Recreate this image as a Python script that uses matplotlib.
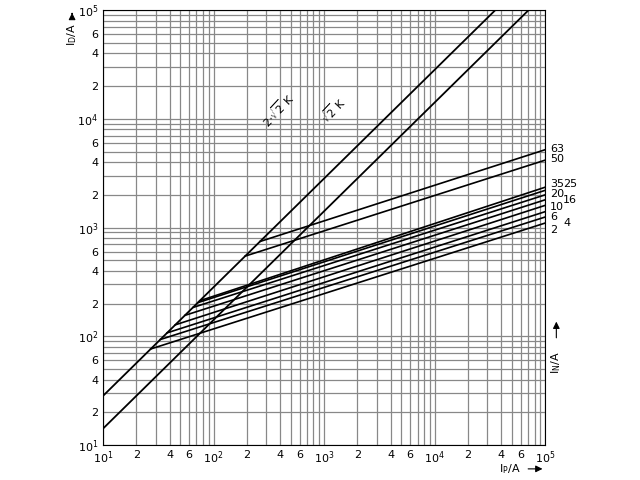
import numpy as np
import matplotlib.pyplot as plt
from matplotlib.ticker import LogLocator, FixedFormatter, FixedLocator

# rated currents and where each fuse curve leaves the 2*sqrt(2) line / ends at 1e5
ratings = ["63", "50", "35", "25", "20", "16", "10", "6", "4", "2"]
start_ip = [263, 193, 75, 72, 65, 55, 45, 38, 33, 27]
end_id = [5200, 4170, 2350, 2200, 2000, 1800, 1600, 1400, 1250, 1100]
label_y = [5300, 4300, 2500, 2500, 2050, 1800, 1550, 1250, 1100, 950]
label_x = [1.1e5, 1.1e5, 1.1e5, 1.45e5, 1.1e5, 1.45e5, 1.1e5, 1.1e5, 1.45e5, 1.1e5]

ip_range = [10, 1e5]

fig = plt.figure(figsize=(6.4, 4.8), dpi=100)
ax = fig.add_axes([0.161, 0.073, 0.691, 0.906])
ax.set_xscale("log")
ax.set_yscale("log")
ax.set_xlim(10, 1e5)
ax.set_ylim(10, 1e5)

ax.grid(True, which="both", color="#888888", lw=0.9)
ax.set_axisbelow(True)

x = np.array(ip_range)
ax.plot(x, 2 * np.sqrt(2) * x, color="black", lw=1.3)
ax.plot(x, np.sqrt(2) * x, color="black", lw=1.3)
ax.text(380, 1.2e4, r"$2{\cdot}\sqrt{2}$ K", rotation=47, fontsize=8, ha="center", va="center")
ax.text(1200, 1.2e4, r"$\sqrt{2}$ K", rotation=47, fontsize=8, ha="center", va="center")

for r, s, e, lx, ly in zip(ratings, start_ip, end_id, label_x, label_y):
    ax.plot([s, 1e5], [2 * np.sqrt(2) * s, e], color="black", lw=1.2)
    ax.text(lx, ly, r, fontsize=8, ha="left", va="center", clip_on=False)

ticks = []
labels = []
for d in range(1, 6):
    for m in ([1, 2, 4, 6] if d < 5 else [1]):
        ticks.append(m * 10 ** d)
        labels.append(f"$10^{d}$" if m == 1 else str(m))
for axis in (ax.xaxis, ax.yaxis):
    axis.set_major_locator(FixedLocator(ticks))
    axis.set_major_formatter(FixedFormatter(labels))
    axis.set_minor_locator(LogLocator(subs=np.arange(2, 10)))
ax.tick_params(which="both", length=0, labelsize=8)

ax.text(-0.07, 0.97, r"$\mathregular{I_D}$/A", transform=ax.transAxes, rotation=90,
        fontsize=8, ha="center", va="top")
ax.annotate("", xy=(-0.07, 1.0), xytext=(-0.07, 0.985), xycoords="axes fraction",
            arrowprops=dict(arrowstyle="-|>", color="black", lw=0.8))
ax.text(0.92, -0.055, r"$\mathregular{I_P}$/A", transform=ax.transAxes, fontsize=8,
        ha="center", va="center")
ax.annotate("", xy=(1.0, -0.055), xytext=(0.955, -0.055), xycoords="axes fraction",
            arrowprops=dict(arrowstyle="-|>", color="black", lw=0.8))
ax.text(1.025, 0.19, r"$\mathregular{I_N}$/A", transform=ax.transAxes, rotation=90,
        fontsize=8, ha="center", va="center")
ax.annotate("", xy=(1.025, 0.29), xytext=(1.025, 0.24), xycoords="axes fraction",
            arrowprops=dict(arrowstyle="-|>", color="black", lw=0.8))

fig.savefig("out.png", dpi=100)
